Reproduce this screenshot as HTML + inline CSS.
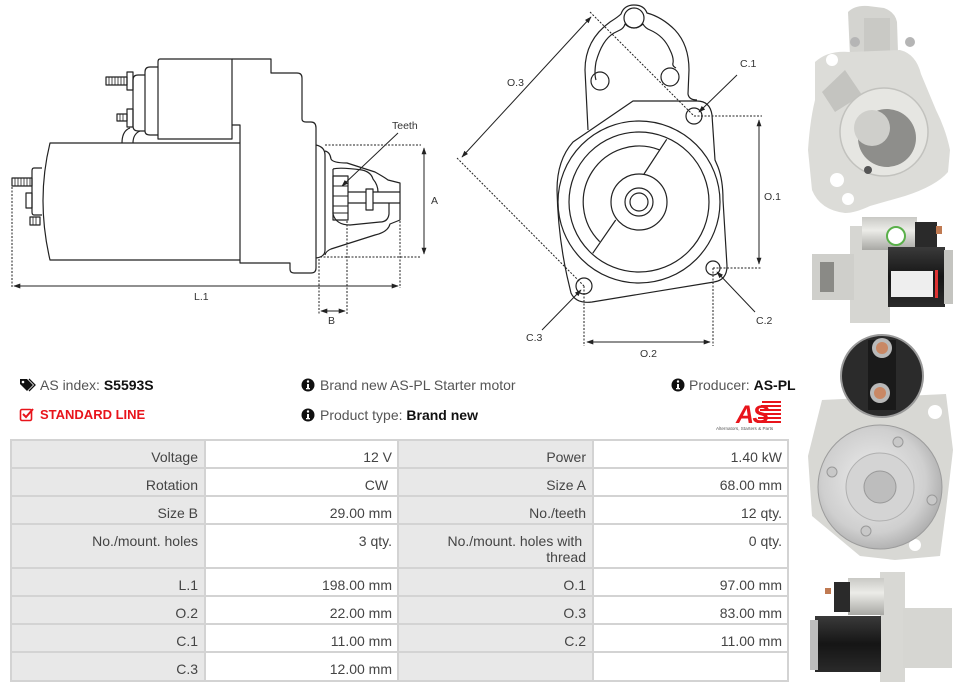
<!DOCTYPE html>
<html><head><meta charset="utf-8">
<style>
html,body{margin:0;padding:0;background:#fff;}
body{width:961px;height:692px;position:relative;overflow:hidden;font-family:"Liberation Sans",Arial,sans-serif;}
.abs{position:absolute;}
.info{font-size:14px;color:#555;white-space:nowrap;line-height:16px;}
.info b{color:#111;}
#tbl{position:absolute;left:10px;top:439px;width:779px;height:243px;background:#d3d3d3;}
.c{position:absolute;font-size:14px;color:#444;line-height:16px;text-align:right;box-sizing:border-box;padding-top:8px;}
.l{background:#e8e8e8;padding-right:6px;}
.v{background:#fff;padding-right:5px;}
</style></head>
<body>
<svg class="abs" style="left:0;top:0" width="961" height="692" viewBox="0 0 961 692">
<defs>
<marker id="ar" viewBox="0 0 10 10" refX="9" refY="5" markerWidth="7" markerHeight="7" orient="auto-start-reverse" markerUnits="userSpaceOnUse"><path d="M0,1.5 L10,5 L0,8.5 Z" fill="#222"/></marker>
<radialGradient id="silver" cx="0.45" cy="0.45" r="0.6"><stop offset="0" stop-color="#eeeeee"/><stop offset="0.7" stop-color="#cfcfcf"/><stop offset="1" stop-color="#a9a9a9"/></radialGradient>
<linearGradient id="solg" x1="0" y1="0" x2="0" y2="1"><stop offset="0" stop-color="#c9c9c5"/><stop offset="0.4" stop-color="#ecece8"/><stop offset="1" stop-color="#a8a8a4"/></linearGradient>
<linearGradient id="blk" x1="0" y1="0" x2="0" y2="1"><stop offset="0" stop-color="#3a3a3a"/><stop offset="0.5" stop-color="#151515"/><stop offset="1" stop-color="#2a2a2a"/></linearGradient>
</defs>

<!-- ============ LEFT SIDE DRAWING ============ -->
<g fill="none" stroke="#222" stroke-width="1.2" stroke-linejoin="round">
 <path d="M160,59 H232 V139 H158 V62 Q158,59 160,59 Z"/>
 <path d="M158,67 H150 Q145,67 145,72 V131 Q145,135 150,135 H158"/>
 <path d="M145,75 H138 Q133,75 133,80 V126 Q133,131 138,131 H145"/>
 <path d="M122,143 Q122,131 130,128"/>
 <path d="M133,143 Q133,134 140,131"/>
 <rect x="106" y="77" width="21" height="8"/>
 <path d="M109,77 V85 M112,77 V85 M115,77 V85 M118,77 V85 M121,77 V85 M124,77 V85" stroke-width="0.8"/>
 <rect x="127" y="72" width="6" height="18"/>
 <rect x="117" y="114" width="10" height="7"/>
 <path d="M120,114 V121 M123,114 V121" stroke-width="0.8"/>
 <rect x="127" y="109" width="6" height="18"/>
 <path d="M232,59 H271 V73 H297 Q302,73 302,78 V119 Q302,122 306,122 H311 Q316,122 316,128 V268 Q316,273 311,273 H294 Q290,273 290,269 V263 H240 V125 H232"/>
 <path d="M240,143 H50 Q36,200 50,260 H240"/>
 <path d="M42,168 H34 Q32,168 32,171 V212 Q32,215 34,215 H42"/>
 <rect x="12" y="178" width="20" height="8"/>
 <path d="M15,178 V186 M18,178 V186 M21,178 V186 M24,178 V186 M27,178 V186 M30,178 V186" stroke-width="0.8"/>
 <rect x="26" y="193" width="6" height="15"/>
 <rect x="30" y="217" width="10" height="8"/>
 <path d="M33,217 V225 M36,217 V225" stroke-width="0.8"/>
 <path d="M316,145 Q325,147 325,155 V250 Q325,257 316,258"/>
 <path d="M325,151 Q330,152 331,159 Q333,163 347,163 L375,172 Q384,177 388,180 L400,183 V220 L390,224 Q388,232 375,235 L331,249 Q326,251 325,255"/>
 <path d="M333,169 Q340,167 362,170 Q371,172 373,179 Q378,185 378,192"/>
 <path d="M333,169 V214 Q336,225 350,225 L380,222 Q388,222 389,214 V203"/>
 <rect x="333" y="176" width="15" height="44"/>
 <path d="M333,186 H348 M333,196 H348 M333,206 H348 M333,213 H348" stroke-width="0.9"/>
 <path d="M348,192 H400 M348,203 H400"/>
 <rect x="366" y="189" width="7" height="21" fill="#fff"/>
</g>
<g fill="none" stroke="#222" stroke-width="1">
 <path d="M325,145 H421 M320,257 H421 M12,187 V288 M400,221 V288 M319,259 V314 M347,221 V314" stroke-dasharray="2,1.5"/>
 <path d="M424,148 V254" marker-start="url(#ar)" marker-end="url(#ar)"/>
 <path d="M14,286 H398" marker-start="url(#ar)" marker-end="url(#ar)"/>
 <path d="M321,311 H345" marker-start="url(#ar)" marker-end="url(#ar)"/>
 <path d="M398,133 L342,186" marker-end="url(#ar)"/>
</g>
<g font-family="Liberation Sans, sans-serif" font-size="10.5" fill="#333">
 <text x="392" y="129">Teeth</text>
 <text x="431" y="204">A</text>
 <text x="194" y="300">L.1</text>
 <text x="328" y="324">B</text>
</g>

<!-- ============ MIDDLE FRONT DRAWING ============ -->
<g fill="none" stroke="#222" stroke-width="1.2" stroke-linejoin="round">
 <path d="M588,130 L585,70 Q585,40 610,22 Q618,17 621,14 Q624,5 634,5 Q644,5 647,13 Q662,17 675,30 Q689,45 689,70 L688,94 Q689,100 697,100"/>
 <path d="M596,80 Q594,74 596,62 Q602,40 614,33 L620,30 Q624,28 625,24 Q634,32 643,24 Q645,28 650,30 Q664,36 670,50 Q674,58 673,63 Q672,66 676,68"/>
 <circle cx="634" cy="18" r="10"/>
 <circle cx="600" cy="81" r="9"/>
 <circle cx="670" cy="77" r="9"/>
 <path d="M633,101 H697 Q710,101 712,115 L715,160 L718,167 Q723,180 723,200 L727,266 Q727,280 714,282 L592,302 Q576,304 571,293 L567,276 Q558,235 557,190 Q557,160 573,142 Z"/>
 <circle cx="639" cy="202" r="81"/>
 <circle cx="639" cy="202" r="70"/>
 <path d="M659.7,149.9 A56,56 0 0 0 599.7,241.7"/>
 <path d="M666.7,139.3 L644,174 M615.7,220 L592.7,253.3"/>
 <circle cx="639" cy="202" r="28"/>
 <circle cx="639" cy="202" r="14"/>
 <circle cx="639" cy="202" r="9"/>
 <circle cx="694" cy="116" r="8"/>
 <circle cx="713" cy="268" r="7"/>
 <circle cx="584" cy="286" r="8"/>
</g>
<g fill="none" stroke="#222" stroke-width="1">
 <path d="M590,12 L694,116 M457,158 L584,286 M694,116 H762 M713,268 H762 M584,286 V346 M713,268 V346" stroke-dasharray="2,1.5"/>
 <path d="M591,17 L462,157" marker-start="url(#ar)" marker-end="url(#ar)"/>
 <path d="M759,120 V264" marker-start="url(#ar)" marker-end="url(#ar)"/>
 <path d="M587,342 H710" marker-start="url(#ar)" marker-end="url(#ar)"/>
 <path d="M737,75 L699,112" marker-end="url(#ar)"/>
 <path d="M755,312 L717,272" marker-end="url(#ar)"/>
 <path d="M542,330 L581,290" marker-end="url(#ar)"/>
</g>
<g font-family="Liberation Sans, sans-serif" font-size="10.5" fill="#333">
 <text x="507" y="86">O.3</text>
 <text x="740" y="67">C.1</text>
 <text x="764" y="200">O.1</text>
 <text x="756" y="324">C.2</text>
 <text x="640" y="357">O.2</text>
 <text x="526" y="341">C.3</text>
</g>

<!-- ============ PHOTOS ============ -->
<g>
 <path d="M848,12 Q855,5 868,6 L884,8 Q895,12 897,22 L898,52 L850,56 Z" fill="#d4d4d0"/>
 <rect x="864" y="18" width="26" height="40" fill="#c9c9c5"/>
 <path d="M815,62 Q828,50 850,52 L900,50 Q916,54 921,74 L936,110 Q946,130 950,150 L948,172 Q936,186 905,196 L870,206 Q855,213 845,213 Q820,210 812,190 L808,150 Q810,120 815,100 Z" fill="#dcdcd8"/>
 <path d="M822,92 L845,70 L862,95 L835,112 Z" fill="#c4c4c0"/>
 <circle cx="884" cy="132" r="44" fill="#e6e6e2" stroke="#c2c2be" stroke-width="1.5"/>
 <circle cx="887" cy="138" r="29" fill="#8e8e8b"/>
 <circle cx="872" cy="128" r="18" fill="#cfcfcb"/>
 <circle cx="832" cy="60" r="6" fill="#fff"/>
 <circle cx="837" cy="180" r="7" fill="#fff"/>
 <circle cx="848" cy="199" r="6" fill="#fff"/>
 <circle cx="855" cy="42" r="5" fill="#b5b5b5"/>
 <circle cx="910" cy="42" r="5" fill="#b5b5b5"/>
 <circle cx="868" cy="170" r="4" fill="#555"/>
</g>
<g>
 <rect x="850" y="226" width="40" height="97" fill="#d6d6d2"/>
 <rect x="812" y="254" width="42" height="46" fill="#cfcfcb"/>
 <rect x="820" y="262" width="14" height="30" fill="#8a8a86"/>
 <rect x="862" y="217" width="55" height="33" fill="url(#solg)"/>
 <rect x="915" y="222" width="22" height="28" fill="#2a2a2a"/>
 <rect x="936" y="226" width="6" height="8" fill="#c07a52"/>
 <circle cx="896" cy="236" r="9" fill="#fff" stroke="#5ab04a" stroke-width="2"/>
 <rect x="888" y="247" width="57" height="60" fill="url(#blk)"/>
 <rect x="891" y="271" width="42" height="26" fill="#eeeeee"/>
 <rect x="935" y="270" width="3" height="28" fill="#d33"/>
 <rect x="944" y="250" width="9" height="54" fill="#c4c4c0"/>
</g>
<g>
 <path d="M822,400 L946,394 L953,450 L946,510 L940,556 L895,560 L860,556 L812,516 L808,456 Z" fill="#d8d8d4"/>
 <circle cx="935" cy="412" r="7" fill="#fff"/>
 <circle cx="915" cy="545" r="6" fill="#fff"/>
 <circle cx="882" cy="376" r="41" fill="#2b2b2b" stroke="#9a9a9a" stroke-width="2"/>
 <rect x="868" y="340" width="28" height="70" fill="#1a1a1a"/>
 <circle cx="882" cy="348" r="10" fill="#b9b9b9"/>
 <circle cx="882" cy="348" r="6" fill="#c98865"/>
 <circle cx="880" cy="393" r="10" fill="#b9b9b9"/>
 <circle cx="880" cy="393" r="6" fill="#c98865"/>
 <circle cx="880" cy="487" r="62" fill="url(#silver)" stroke="#9c9c9c" stroke-width="1"/>
 <circle cx="880" cy="487" r="34" fill="#d4d4d4" stroke="#b0b0b0"/>
 <circle cx="880" cy="487" r="16" fill="#bdbdbd" stroke="#999"/>
 <circle cx="898" cy="442" r="5" fill="#c8c8c8" stroke="#999"/>
 <circle cx="832" cy="472" r="5" fill="#c8c8c8" stroke="#999"/>
 <circle cx="932" cy="500" r="5" fill="#c8c8c8" stroke="#999"/>
 <circle cx="866" cy="531" r="5" fill="#c8c8c8" stroke="#999"/>
</g>
<g>
 <rect x="880" y="572" width="25" height="110" fill="#d8d8d4"/>
 <rect x="903" y="608" width="49" height="60" fill="#d6d6d2"/>
 <rect x="848" y="578" width="36" height="37" fill="url(#solg)"/>
 <rect x="834" y="582" width="16" height="30" fill="#2a2a2a"/>
 <rect x="825" y="588" width="6" height="6" fill="#c07a52"/>
 <rect x="815" y="616" width="66" height="56" fill="url(#blk)"/>
 <rect x="810" y="620" width="8" height="50" fill="#bdbdbd"/>
</g>

<!-- ============ ICONS ============ -->
<path d="M20,379 H27 L33,385 L27,391 L20,384 Z" fill="#111"/>
<circle cx="23" cy="382" r="1.3" fill="#fff"/>
<path d="M29,379 L35,385 L29,391" fill="none" stroke="#111" stroke-width="1.3"/>
<rect x="20.5" y="409.5" width="11" height="11" rx="1.5" fill="none" stroke="#e8141b" stroke-width="1.6"/>
<path d="M23,414 L26,417 L33,409" fill="none" stroke="#e8141b" stroke-width="2"/>
<g fill="#111">
 <circle cx="308" cy="385" r="6.5"/><circle cx="308" cy="415" r="6.5"/><circle cx="678" cy="385" r="6.5"/>
</g>
<g fill="#fff">
 <circle cx="308" cy="381.5" r="1.2"/><rect x="307" y="384" width="2" height="5"/><rect x="306" y="388" width="4" height="1.3"/>
 <circle cx="308" cy="411.5" r="1.2"/><rect x="307" y="414" width="2" height="5"/><rect x="306" y="418" width="4" height="1.3"/>
 <circle cx="678" cy="381.5" r="1.2"/><rect x="677" y="384" width="2" height="5"/><rect x="676" y="388" width="4" height="1.3"/>
</g>
<g fill="#e8141b">
 <rect x="762" y="401" width="19" height="2"/>
 <rect x="761" y="405" width="20" height="2"/>
 <rect x="760" y="409" width="21" height="2"/>
 <rect x="759" y="413" width="22" height="2"/>
 <rect x="758" y="417" width="23" height="2"/>
 <rect x="757" y="421" width="24" height="2"/>
 <text x="736" y="423" font-family="Liberation Sans, sans-serif" font-size="25" font-weight="bold" font-style="italic" letter-spacing="-1.5">AS</text>
</g>
<text x="716" y="430" font-family="Liberation Sans, sans-serif" font-size="4.6" fill="#555">Alternators, Starters &amp; Parts</text>
</svg>

<div class="abs info" style="left:40px;top:377px;">AS index: <b>S5593S</b></div>
<div class="abs info" style="left:40px;top:407px;color:#e8141b;font-weight:bold;font-size:13px;">STANDARD LINE</div>
<div class="abs info" style="left:320px;top:377px;">Brand new AS-PL Starter motor</div>
<div class="abs info" style="left:320px;top:407px;">Product type: <b>Brand new</b></div>
<div class="abs info" style="left:689px;top:377px;">Producer: <b>AS-PL</b></div>

<div id="tbl">
 <div class="c l" style="left:2px;top:2px;width:192px;height:26px;">Voltage</div>
 <div class="c v" style="left:196px;top:2px;width:191px;height:26px;">12 V</div>
 <div class="c l" style="left:389px;top:2px;width:193px;height:26px;">Power</div>
 <div class="c v" style="left:584px;top:2px;width:193px;height:26px;">1.40 kW</div>
 <div class="c l" style="left:2px;top:30px;width:192px;height:26px;">Rotation</div>
 <div class="c v" style="left:196px;top:30px;width:191px;height:26px;">CW&nbsp;</div>
 <div class="c l" style="left:389px;top:30px;width:193px;height:26px;">Size A</div>
 <div class="c v" style="left:584px;top:30px;width:193px;height:26px;">68.00 mm</div>
 <div class="c l" style="left:2px;top:58px;width:192px;height:26px;">Size B</div>
 <div class="c v" style="left:196px;top:58px;width:191px;height:26px;">29.00 mm</div>
 <div class="c l" style="left:389px;top:58px;width:193px;height:26px;">No./teeth</div>
 <div class="c v" style="left:584px;top:58px;width:193px;height:26px;">12 qty.</div>
 <div class="c l" style="left:2px;top:86px;width:192px;height:42px;">No./mount. holes</div>
 <div class="c v" style="left:196px;top:86px;width:191px;height:42px;">3 qty.</div>
 <div class="c l" style="left:389px;top:86px;width:193px;height:42px;">No./mount. holes with&nbsp;<br>thread</div>
 <div class="c v" style="left:584px;top:86px;width:193px;height:42px;">0 qty.</div>
 <div class="c l" style="left:2px;top:130px;width:192px;height:26px;">L.1</div>
 <div class="c v" style="left:196px;top:130px;width:191px;height:26px;">198.00 mm</div>
 <div class="c l" style="left:389px;top:130px;width:193px;height:26px;">O.1</div>
 <div class="c v" style="left:584px;top:130px;width:193px;height:26px;">97.00 mm</div>
 <div class="c l" style="left:2px;top:158px;width:192px;height:26px;">O.2</div>
 <div class="c v" style="left:196px;top:158px;width:191px;height:26px;">22.00 mm</div>
 <div class="c l" style="left:389px;top:158px;width:193px;height:26px;">O.3</div>
 <div class="c v" style="left:584px;top:158px;width:193px;height:26px;">83.00 mm</div>
 <div class="c l" style="left:2px;top:186px;width:192px;height:26px;">C.1</div>
 <div class="c v" style="left:196px;top:186px;width:191px;height:26px;">11.00 mm</div>
 <div class="c l" style="left:389px;top:186px;width:193px;height:26px;">C.2</div>
 <div class="c v" style="left:584px;top:186px;width:193px;height:26px;">11.00 mm</div>
 <div class="c l" style="left:2px;top:214px;width:192px;height:27px;">C.3</div>
 <div class="c v" style="left:196px;top:214px;width:191px;height:27px;">12.00 mm</div>
 <div class="c l" style="left:389px;top:214px;width:193px;height:27px;"></div>
 <div class="c v" style="left:584px;top:214px;width:193px;height:27px;"></div>
</div>
</body></html>
